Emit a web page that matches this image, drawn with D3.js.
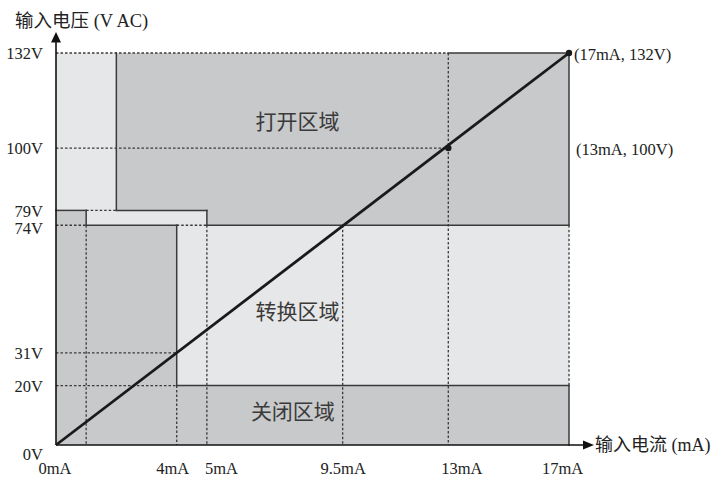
<!DOCTYPE html>
<html><head><meta charset="utf-8">
<script src="https://cdn.jsdelivr.net/npm/d3@7"></script>
<style>body{margin:0;background:#fff}svg{display:block}</style>
</head><body>
<script>
// ---- data ----
const xTicks = [0, 4, 5, 9.5, 13, 17];
const xTickLabels = ["0mA", "4mA", "5mA", "9.5mA", "13mA", "17mA"];
const yTicks = [0, 20, 31, 74, 79, 100, 132];
const yTickLabels = ["0V", "20V", "31V", "74V", "79V", "100V", "132V"];
const transitionRegion = [[0,0],[17,0],[17,132],[0,132]];
const onRegion = [[2,132],[17,132],[17,74],[5,74],[5,79],[2,79]];
const offRegion = [[0,79],[1,79],[1,74],[4,74],[4,20],[17,20],[17,0],[0,0]];
const solidEdges = [
  [[2,79],[2,132]], [[2,79],[5,79]], [[5,79],[5,74]], [[5,74],[17,74]], [[17,74],[17,132]], [[13,132],[17,132]],
  [[0,79],[1,79]], [[1,79],[1,74]], [[1,74],[4,74]], [[4,74],[4,20]], [[4,20],[17,20]], [[17,20],[17,0]]
];
const dottedLines = [
  [[0,132],[13,132]], [[0,100],[13,100]], [[13,132],[13,0]], [[1,79],[2,79]], [[0,74],[1,74]],
  [[4,74],[5,74]], [[1,74],[1,0]], [[5,74],[5,0]], [[4,20],[4,0]], [[9.5,74],[9.5,0]],
  [[17,74],[17,20]], [[0,31],[4,31]], [[0,20],[4,20]]
];
const linePoints = [[0,0],[17,132]];
const markerPoints = [[13,100],[17,132]];
const regionLabels = [
  {text: "打开区域", x: 8, y: 109},
  {text: "转换区域", x: 8, y: 45},
  {text: "关闭区域", x: 7.85, y: 11.1}
];
const pointLabels = [
  {text: "(17mA, 132V)", x: 17, y: 132},
  {text: "(13mA, 100V)", x: 17, y: 100}
];
const xAxisTitle = "输入电流 (mA)";
const yAxisTitle = "输入电压 (V AC)";

// ---- drawing ----
const W = 715, H = 479;
const svg = d3.select("body").append("svg").attr("width", W).attr("height", H);
const x = d3.scaleLinear().domain([0, 17]).range([56, 569]);
const y = d3.scaleLinear().domain([0, 132]).range([445, 53]);
const serif = "'Liberation Serif','Times New Roman',serif";
const mixed = "'Liberation Serif','Noto Sans CJK SC',serif";
const cjk = "'Noto Sans CJK SC','Noto Sans',sans-serif";
const line = d3.line().x(d => x(d[0])).y(d => y(d[1]));

svg.append("path").attr("d", line(transitionRegion) + "Z").attr("fill", "#e6e7e8");
svg.append("path").attr("d", line(onRegion) + "Z").attr("fill", "#c8c9cb");
svg.append("path").attr("d", line(offRegion) + "Z").attr("fill", "#c8c9cb");

svg.selectAll(".dot-line").data(dottedLines).enter().append("path")
  .attr("d", d => line(d)).attr("stroke", "#3a3a3a").attr("stroke-width", 1.3)
  .attr("stroke-dasharray", "2.5,2").attr("fill", "none");

svg.selectAll(".solid").data(solidEdges).enter().append("path")
  .attr("d", d => line(d)).attr("stroke", "#3a3a3a").attr("stroke-width", 1.5)
  .attr("fill", "none").attr("stroke-linecap", "square");

// axes
const xLabelShift = [-1.5, -4.5, 14, 0, 13, -7];
const xAxis = d3.axisBottom(x).tickValues(xTicks).tickFormat((d, i) => xTickLabels[i]).tickSize(0).tickPadding(17);
const gx = svg.append("g").attr("transform", `translate(0,${y(0)})`).call(xAxis);
gx.select(".domain").remove();
gx.selectAll("text").attr("font-family", serif).attr("font-size", 16.5).attr("fill", "#222")
  .attr("dx", (d, i) => xLabelShift[i]);

const yAxis = d3.axisLeft(y).tickValues(yTicks).tickFormat((d, i) => yTickLabels[i]).tickSize(0).tickPadding(13);
const gy = svg.append("g").attr("transform", `translate(${x(0)},0)`).call(yAxis);
gy.select(".domain").remove();
gy.selectAll("text").attr("font-family", serif).attr("font-size", 16.5).attr("fill", "#222")
  .attr("dy", d => d === 0 ? "0.87em" : (d === 74 ? "0.5em" : "0.35em"));

svg.append("line").attr("x1", x(0)).attr("y1", y(0)).attr("x2", 586).attr("y2", y(0))
  .attr("stroke", "#111").attr("stroke-width", 1.6);
svg.append("path").attr("d", `M594,${y(0)} L583,${y(0)-4.5} L583,${y(0)+4.5} Z`).attr("fill", "#111");
svg.append("line").attr("x1", x(0)).attr("y1", y(0)).attr("x2", x(0)).attr("y2", 40)
  .attr("stroke", "#111").attr("stroke-width", 1.6);
svg.append("path").attr("d", `M${x(0)},32 L${x(0)-5},42.5 L${x(0)+5},42.5 Z`).attr("fill", "#111");

svg.append("text").attr("x", 595).attr("y", y(0) + 6)
  .attr("font-family", mixed).attr("font-size", 18).attr("fill", "#222").text(xAxisTitle);
svg.append("text").attr("x", 15).attr("y", 27)
  .attr("font-family", mixed).attr("font-size", 18.5).attr("fill", "#222").text(yAxisTitle);

// diagonal line
svg.append("path").attr("d", line(linePoints)).attr("stroke", "#1a1a1a").attr("stroke-width", 2.8).attr("fill", "none");
svg.selectAll(".mk").data(markerPoints).enter().append("circle")
  .attr("cx", d => x(d[0])).attr("cy", d => y(d[1])).attr("r", 3.2).attr("fill", "#1a1a1a");

svg.selectAll(".rl").data(regionLabels).enter().append("text")
  .attr("x", d => x(d.x)).attr("y", d => y(d.y)).attr("dy", "0.35em").attr("text-anchor", "middle")
  .attr("font-family", cjk).attr("font-size", 21).attr("fill", "#3a3a3a").text(d => d.text);

svg.selectAll(".pl").data(pointLabels).enter().append("text")
  .attr("x", (d, i) => x(d.x) + (i === 0 ? 5 : 7)).attr("y", (d, i) => y(d.y) + (i === 0 ? 2 : 2))
  .attr("dy", "0.32em")
  .attr("font-family", serif).attr("font-size", 16.5).attr("fill", "#222").text(d => d.text);
</script>
</body></html>
